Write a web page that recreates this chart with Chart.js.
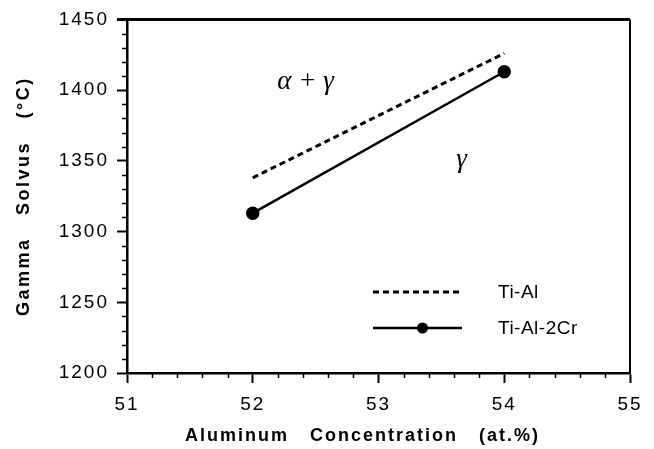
<!DOCTYPE html>
<html>
<head>
<meta charset="utf-8">
<script src="https://cdn.jsdelivr.net/npm/chart.js@4"></script>
<style>
  html, body { margin: 0; padding: 0; background: #fff; }
  #wrap { width: 654px; height: 449px; }
</style>
</head>
<body>
<div id="wrap"><canvas id="chart" width="654" height="449"></canvas></div>
<script>
// Aluminum concentration (at.%) and gamma solvus temperatures (°C)
const alConc = [52, 54];
const tiAl = [1338, 1426];
const tiAl2Cr = [1313, 1413];
const seriesNames = ['Ti-Al', 'Ti-Al-2Cr'];

const xTitle = 'Aluminum   Concentration   (at.%)';
const yTitle = 'Gamma   Solvus   (°C)';

// region labels, placed in data coordinates
const regionLabels = [
  { text: 'α + γ', x: 52.42, y: 1406 },
  { text: 'γ', x: 53.66, y: 1351 }
];

const sansFont = '"Liberation Sans", Arial, Helvetica, sans-serif';

function points(xs, ys) {
  return xs.map((x, i) => ({ x: x, y: ys[i] }));
}

// minor ticks, axis titles, frame, region labels and legend
const paperPlugin = {
  id: 'paper',
  beforeLayout(chart) {
    chart.ctx.letterSpacing = '2px';
  },
  beforeDraw(chart) {
    chart.ctx.letterSpacing = '2px';
  },
  afterDraw(chart) {
    const ctx = chart.ctx;
    const area = chart.chartArea;
    const xs = chart.scales.x;
    const ys = chart.scales.y;

    ctx.save();
    ctx.strokeStyle = '#000';
    ctx.fillStyle = '#000';

    // minor ticks
    ctx.lineWidth = 1.5;
    ctx.beginPath();
    for (let v = 1200; v <= 1450; v += 10) {
      if (v % 50 === 0) continue;
      const py = Math.round(ys.getPixelForValue(v)) + 0.5;
      ctx.moveTo(area.left - 5, py);
      ctx.lineTo(area.left, py);
    }
    for (let i = 0; i <= 20; i++) {
      if (i % 5 === 0) continue;
      const px = Math.round(xs.getPixelForValue(51 + i * 0.2)) + 0.5;
      ctx.moveTo(px, area.bottom);
      ctx.lineTo(px, area.bottom + 5);
    }
    ctx.stroke();

    // frame top and right
    ctx.lineWidth = 3;
    ctx.beginPath();
    ctx.moveTo(area.left - 10, area.top);
    ctx.lineTo(area.right, area.top);
    ctx.stroke();
    ctx.lineWidth = 2;
    ctx.beginPath();
    ctx.moveTo(area.right, area.top);
    ctx.lineTo(area.right, area.bottom);
    ctx.stroke();

    // axis titles
    ctx.letterSpacing = '2px';
    ctx.font = 'bold 18px ' + sansFont;
    ctx.textBaseline = 'middle';
    ctx.textAlign = 'left';
    ctx.fillText(xTitle, 185, 436);
    ctx.save();
    ctx.translate(24, (area.top + area.bottom) / 2);
    ctx.rotate(-Math.PI / 2);
    ctx.textAlign = 'center';
    ctx.letterSpacing = '2.5px';
    ctx.fillText(yTitle, 0, 0);
    ctx.restore();

    // region labels
    ctx.letterSpacing = '0px';
    ctx.font = 'italic 27px "Liberation Serif", "Times New Roman", serif';
    ctx.textAlign = 'center';
    regionLabels.forEach(l => {
      ctx.fillText(l.text, xs.getPixelForValue(l.x), ys.getPixelForValue(l.y));
    });

    // legend
    ctx.font = '19px ' + sansFont;
    ctx.textAlign = 'left';
    ctx.letterSpacing = '0.5px';
    const lx0 = 373, lx1 = 462, tx = 498;
    const rows = [292, 328];
    chart.data.datasets.forEach((ds, i) => {
      const y = rows[i];
      ctx.lineWidth = ds.borderWidth;
      ctx.setLineDash(ds.borderDash || []);
      ctx.beginPath();
      ctx.moveTo(lx0, y);
      ctx.lineTo(lx1, y);
      ctx.stroke();
      ctx.setLineDash([]);
      if (ds.pointRadius > 0) {
        ctx.beginPath();
        ctx.arc((lx0 + lx1) / 2 + 5, y, ds.pointRadius, 0, Math.PI * 2);
        ctx.fill();
      }
      ctx.fillText(ds.label, tx, y + 1);
    });
    ctx.restore();
  }
};

new Chart(document.getElementById('chart'), {
  type: 'line',
  data: {
    datasets: [
      {
        label: seriesNames[0],
        data: points(alConc, tiAl),
        borderColor: '#000',
        borderWidth: 3,
        borderDash: [6, 4],
        pointRadius: 0,
        fill: false
      },
      {
        label: seriesNames[1],
        data: points(alConc, tiAl2Cr),
        borderColor: '#000',
        backgroundColor: '#000',
        borderWidth: 2.5,
        pointRadius: 5.5,
        pointBackgroundColor: '#000',
        fill: false
      }
    ]
  },
  options: {
    responsive: false,
    animation: false,
    layout: { padding: { top: 15, right: 24, left: 0, bottom: 0 } },
    plugins: {
      legend: { display: false },
      tooltip: { enabled: false }
    },
    scales: {
      x: {
        type: 'linear',
        min: 51,
        max: 55,
        ticks: {
          stepSize: 1,
          color: '#000',
          padding: 10,
          font: { family: sansFont, size: 19 },
          callback: v => String(v)
        },
        grid: {
          drawOnChartArea: false,
          tickLength: 10,
          tickWidth: 2,
          tickColor: '#000'
        },
        border: { color: '#000', width: 2.5 },
        afterFit(scale) { scale.height = 76; }
      },
      y: {
        min: 1200,
        max: 1450,
        ticks: {
          stepSize: 50,
          color: '#000',
          padding: 8,
          font: { family: sansFont, size: 19 },
          callback: v => String(v)
        },
        grid: {
          drawOnChartArea: false,
          tickLength: 10,
          tickWidth: 2,
          tickColor: '#000'
        },
        border: { color: '#000', width: 2.5 },
        afterFit(scale) { scale.width = 127; }
      }
    }
  },
  plugins: [paperPlugin]
});
</script>
</body>
</html>
